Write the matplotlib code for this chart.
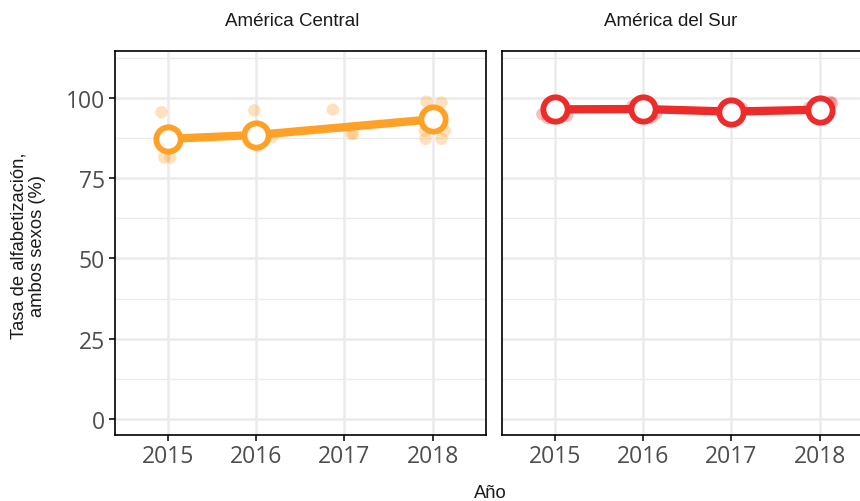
import matplotlib
matplotlib.use("Agg")
import matplotlib.pyplot as plt
import numpy as np

# ---- data ----
years = [2015, 2016, 2017, 2018]
panels = ["América Central", "América del Sur"]

# individual country points (year with small jitter, value)
central_pts_x = [2014.93, 2014.96, 2015.03, 2015.02,
                 2015.98, 2016.18, 2016.02,
                 2016.87, 2017.08, 2017.10,
                 2017.93, 2018.10, 2017.91, 2018.14, 2017.92, 2018.10, 2017.99, 2018.04]
central_pts_y = [95.6, 81.5, 81.5, 90.0,
                 96.2, 87.8, 85.0,
                 96.4, 88.8, 89.0,
                 98.9, 98.6, 89.8, 89.8, 87.3, 87.3, 96.0, 95.5]
central_mean_x = [2015, 2016, 2018]
central_mean_y = [87.3, 88.5, 93.4]

south_pts_x = [2014.86, 2014.92, 2015.05, 2015.10, 2014.95, 2015.14,
               2015.88, 2016.10, 2016.15, 2015.95, 2016.05, 2015.90,
               2016.90, 2017.05, 2017.12, 2016.95, 2017.08,
               2017.88, 2018.12, 2018.05, 2017.95, 2018.14, 2017.92]
south_pts_y = [95.0, 93.8, 97.8, 96.5, 98.0, 94.5,
               97.5, 94.0, 95.2, 98.5, 98.0, 96.0,
               95.0, 94.5, 96.8, 97.5, 93.8,
               97.0, 98.8, 95.0, 94.8, 98.5, 96.5]
south_mean_x = [2015, 2016, 2017, 2018]
south_mean_y = [96.5, 96.6, 95.8, 96.4]

colors = ["#FFA126", "#EE2B2B"]
yticks = [0, 25, 50, 75, 100]

fig = plt.figure(figsize=(8.6, 5.02), dpi=100)
fig.patch.set_facecolor("white")

ax_l = fig.add_axes([114.7 / 860, (502 - 435.5) / 502, 371 / 860, 383.5 / 502])
ax_r = fig.add_axes([501.7 / 860, (502 - 435.5) / 502, 371 / 860, 383.5 / 502])

data = [
    (central_pts_x, central_pts_y, central_mean_x, central_mean_y),
    (south_pts_x, south_pts_y, south_mean_x, south_mean_y),
]
strip_x = [292, 671]

for i, (ax, (px, py, mx, my)) in enumerate(zip([ax_l, ax_r], data)):
    c = colors[i]
    ax.set_xlim(2014.4, 2018.6)
    ax.set_ylim(-4.9, 114.7)
    ax.set_yticks(yticks)
    ax.set_yticks([12.5, 37.5, 62.5, 87.5, 112.5], minor=True)
    ax.set_xticks(years)
    ax.grid(True, which="major", color="#EBEBEB", linewidth=1.8, zorder=0)
    ax.grid(True, which="minor", axis="y", color="#EBEBEB", linewidth=0.9, zorder=0)
    ax.set_axisbelow(True)
    ax.tick_params(which="minor", length=0)
    ax.tick_params(which="major", length=4.5, width=1.4, color="#333333",
                   labelcolor="#4D4D4D", labelsize=16.5, pad=2.5)
    for lab in ax.get_xticklabels() + ax.get_yticklabels():
        lab.set_fontfamily("Open Sans")
    for s in ax.spines.values():
        s.set_color("black")
        s.set_linewidth(1.2)
    ax.scatter(px, py, s=80, color=c, alpha=0.3, edgecolors="none", zorder=2)
    ax.plot(mx, my, color=c, linewidth=6, zorder=3, solid_capstyle="round")
    ax.plot(mx, my, linestyle="none", marker="o", markersize=17.5,
            markerfacecolor="white", markeredgecolor=c, markeredgewidth=4.2, zorder=4)
    fig.text(strip_x[i] / 860, 1 - 21 / 502, panels[i], ha="center",
             va="center", fontsize=13.5, color="#1A1A1A", family="Liberation Sans")

ax_r.tick_params(axis="y", left=False, labelleft=False)

fig.text(28 / 860, 1 - 246 / 502, "Tasa de alfabetización,\nambos sexos (%)",
         rotation=90, ha="center", va="center", fontsize=13.2, color="#1A1A1A",
         family="Liberation Sans", linespacing=1.15)
fig.text(490 / 860, 1 - 494 / 502, "Año", ha="center", va="center",
         fontsize=13.2, color="#1A1A1A", family="Liberation Sans")

fig.savefig("out.png", dpi=100)
